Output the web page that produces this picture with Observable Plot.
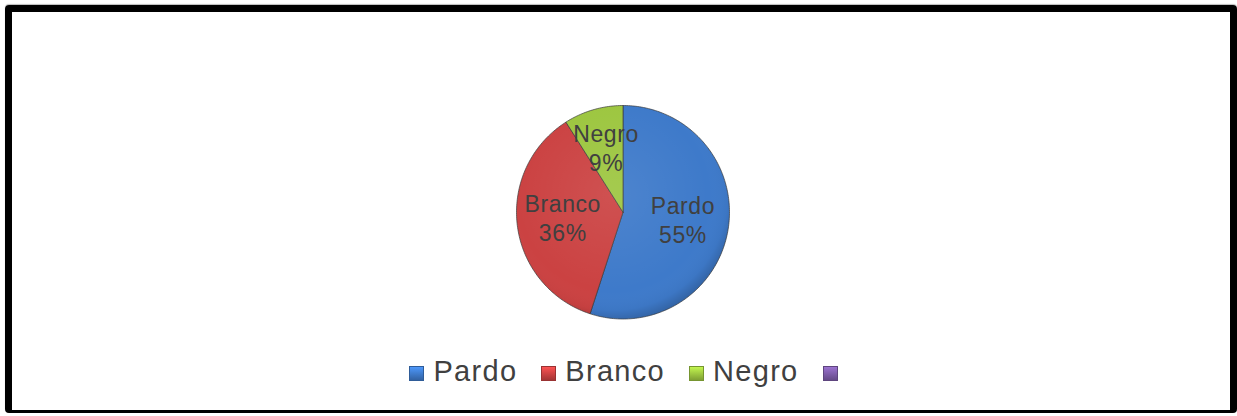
<!DOCTYPE html>
<html>
<head>
<meta charset="utf-8">
<script src="https://cdn.jsdelivr.net/npm/d3@7"></script>
<script src="https://cdn.jsdelivr.net/npm/@observablehq/plot@0.6"></script>
<style>
  html, body { margin: 0; padding: 0; background: #fff; }
  body { width: 1237px; height: 416px; position: relative; overflow: hidden; font-family: "Liberation Sans", Arial, sans-serif; }
  #frame { position: absolute; left: 5px; top: 5px; width: 1232px; height: 408px; box-sizing: border-box;
           border: 7px solid #000; border-bottom-width: 3px; border-radius: 4px; box-shadow: 0 -1px 1px #bbb; }
  #chart { position: absolute; left: 0; top: 0; }
  #legend { position: absolute; top: 355px; left: 0; width: 1256px; display: flex; justify-content: center; align-items: center; gap: 24px; }
  .item { display: flex; align-items: center; font-size: 29px; letter-spacing: 1.3px; color: #404040; }
  .sw { width: 15px; height: 15px; margin-right: 9px; box-sizing: border-box; margin-top: 3px; }
</style>
</head>
<body>
<div id="frame"></div>
<div id="chart"></div>
<div id="legend"></div>
<script>
// ---- data ----
const categories = ["Pardo", "Branco", "Negro"];
const values = [55, 36, 9];
const legendNames = ["Pardo", "Branco", "Negro", ""];
const colors = ["#3E7ACA", "#CB4242", "#9DC640", "#7D5CA8"];

// slices computed from values (clockwise from 12 o'clock)
const total = d3.sum(values);
let acc = 0;
const slices = categories.map((name, i) => {
  const a0 = acc / total * 2 * Math.PI;
  acc += values[i];
  const a1 = acc / total * 2 * Math.PI;
  return {name, value: values[i], a0, a1, pct: Math.round(values[i] / total * 100)};
});
const points = [];
for (const s of slices) {
  points.push({name: s.name, x: 0, y: 0});
  const n = Math.max(2, Math.ceil((s.a1 - s.a0) / (Math.PI / 180)));
  for (let k = 0; k <= n; k++) {
    const a = s.a0 + (s.a1 - s.a0) * k / n;
    points.push({name: s.name, x: Math.sin(a), y: Math.cos(a)});
  }
  points.push({name: s.name, x: 0, y: 0});
}
const labelR = 0.6;
const labels = slices.map(s => {
  const m = (s.a0 + s.a1) / 2;
  return {x: Math.sin(m) * labelR * 0.95, y: Math.cos(m) * labelR + 0.03, text: `${s.name}\n${s.pct}%`};
});

const xRange = [516, 729];
const yRange = [318.5, 105];
const rPx = (xRange[1] - xRange[0]) / 2;

const defs = () => {
  const svg = d3.create("svg:g");
  const d = svg.append("defs");
  const g = d.append("radialGradient").attr("id", "shade").attr("cx", "45%").attr("cy", "42%").attr("r", "60%");
  g.append("stop").attr("offset", "0%").attr("stop-color", "#fff").attr("stop-opacity", 0.08);
  g.append("stop").attr("offset", "75%").attr("stop-color", "#fff").attr("stop-opacity", 0.0);
  g.append("stop").attr("offset", "90%").attr("stop-color", "#000").attr("stop-opacity", 0.03);
  g.append("stop").attr("offset", "100%").attr("stop-color", "#000").attr("stop-opacity", 0.2);
  return svg.node();
};

const chart = Plot.plot({
  width: 1237,
  height: 340,
  x: {domain: [-1, 1], range: xRange, axis: null},
  y: {domain: [-1, 1], range: yRange, axis: null},
  color: {domain: legendNames, range: colors},
  marks: [
    defs,
    Plot.line(points, {x: "x", y: "y", z: "name", fill: "name", stroke: "#3b3b3b", strokeWidth: 0.7, curve: "linear"}),
    Plot.dot([{x: 0, y: 0}], {x: "x", y: "y", r: rPx, fill: "url(#shade)", stroke: "none"}),
    Plot.text(labels, {x: "x", y: "y", text: "text", fontSize: 23, lineHeight: 1.25, fill: "#404040", fontFamily: "Liberation Sans, Arial, sans-serif"})
  ]
});
document.getElementById("chart").appendChild(chart);
chart.querySelectorAll("text").forEach(t => t.style.letterSpacing = "0.6px");

// legend (HTML)
const lg = document.getElementById("legend");
legendNames.forEach((name, i) => {
  const it = document.createElement("div");
  it.className = "item";
  const sw = document.createElement("span");
  sw.className = "sw";
  const c = d3.color(colors[i]);
  sw.style.background = `linear-gradient(180deg, ${c.brighter(0.6)} 0%, ${c} 55%, ${c.darker(0.6)} 100%)`;
  sw.style.border = `1px solid ${c.darker(0.8)}`;
  it.appendChild(sw);
  const t = document.createElement("span");
  t.textContent = name;
  it.appendChild(t);
  lg.appendChild(it);
});
</script>
</body>
</html>
